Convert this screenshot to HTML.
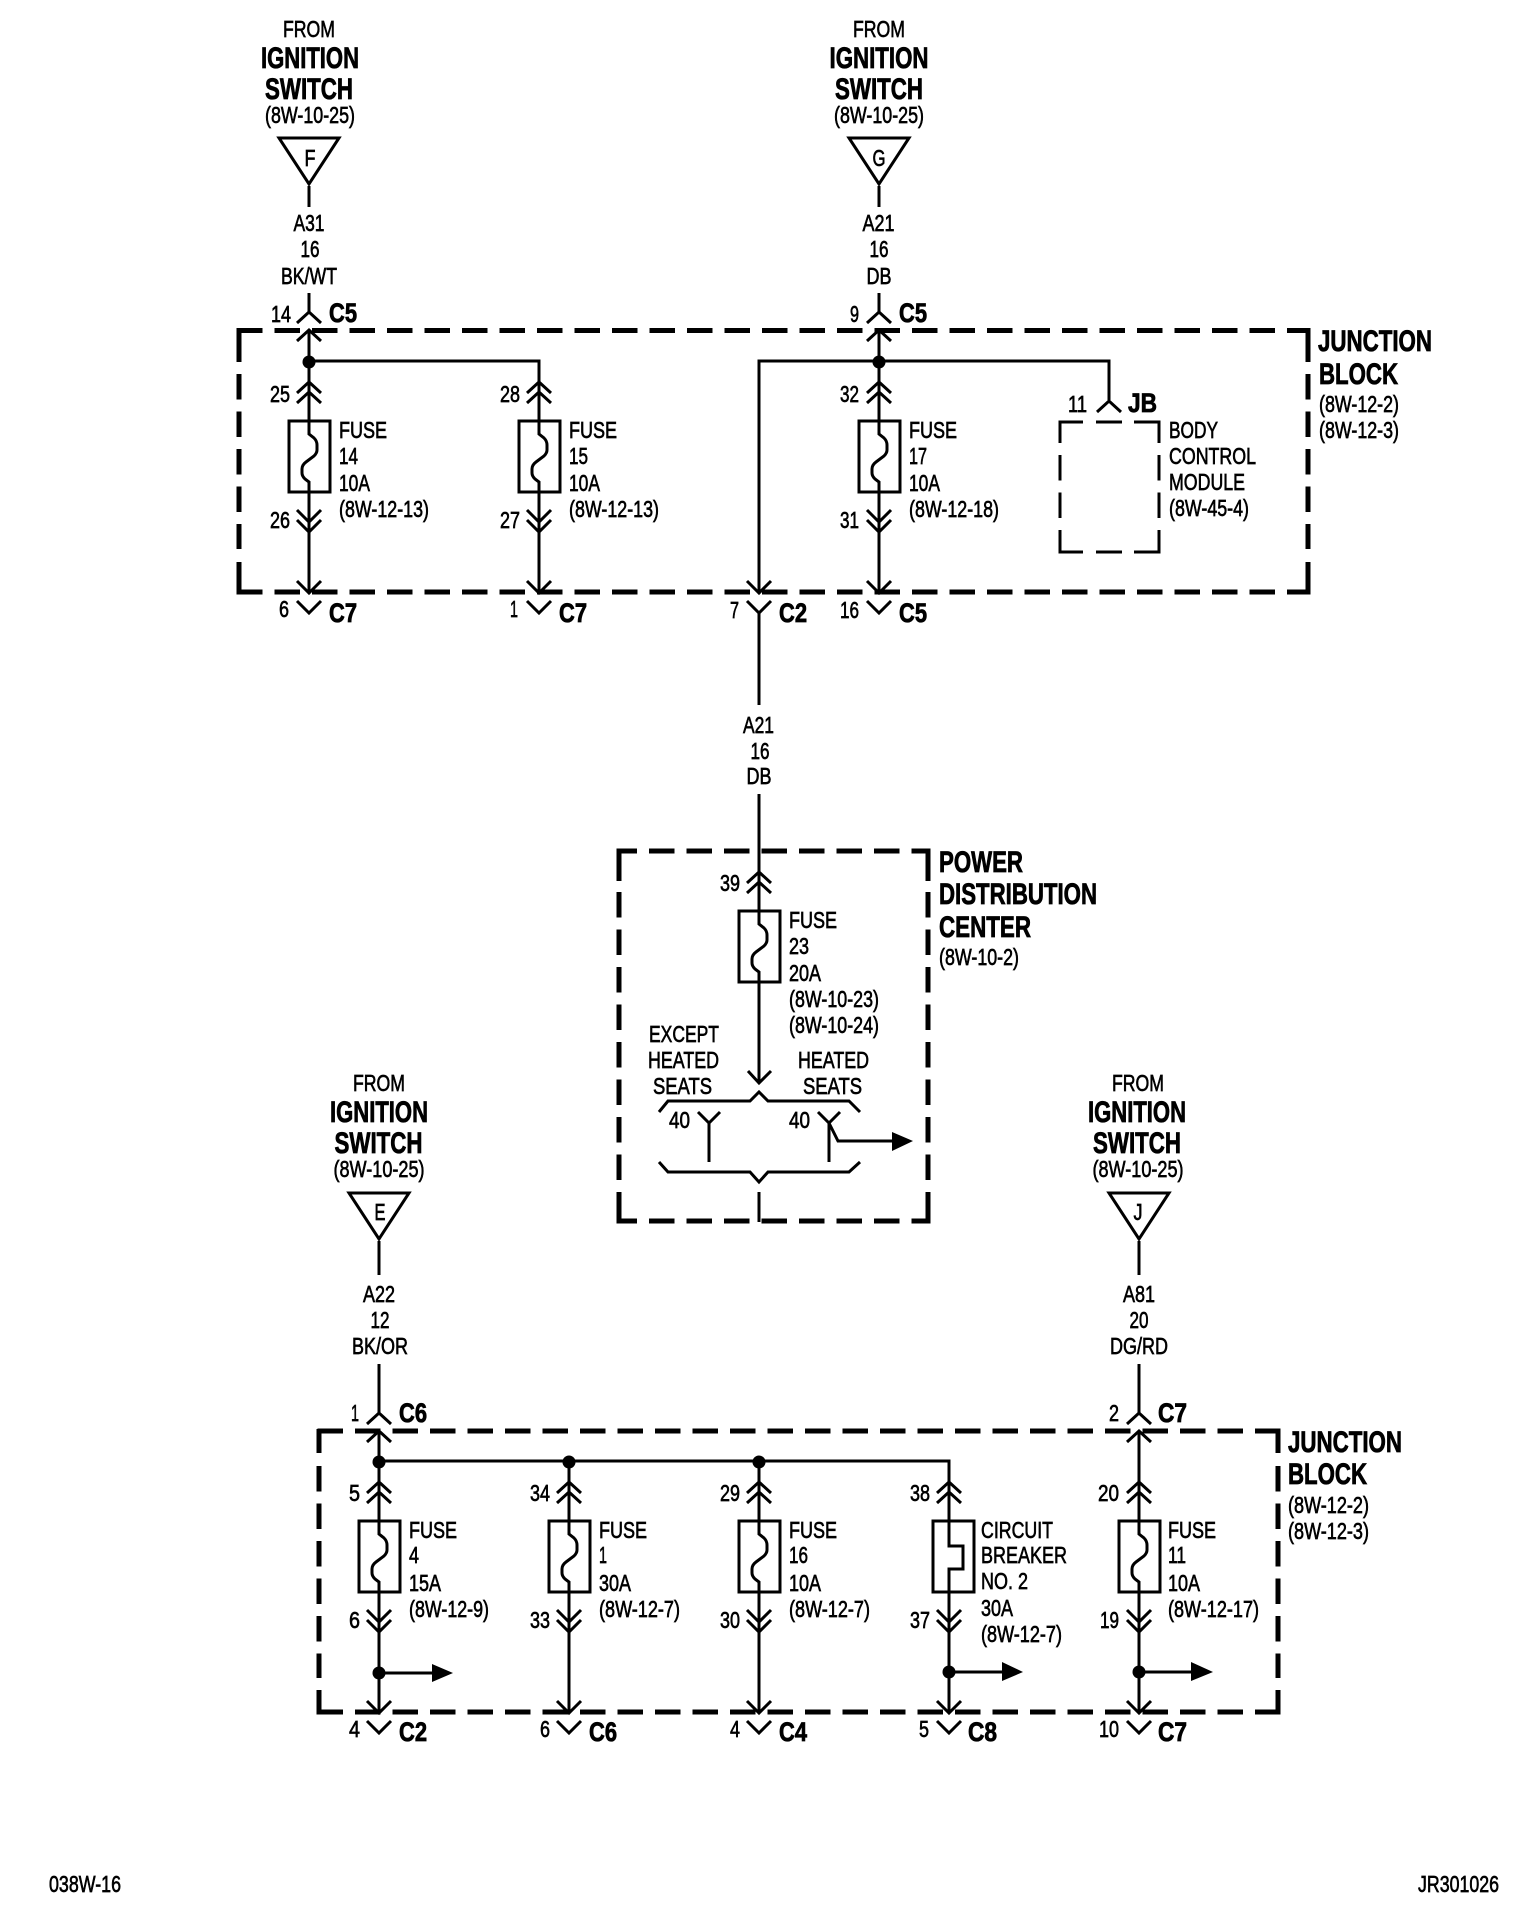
<!DOCTYPE html>
<html>
<head>
<meta charset="utf-8">
<title>Ignition switch wiring diagram 038W-16</title>
<style>
html,body{margin:0;padding:0;background:#fff}
svg{display:block}
.w{fill:none;stroke:#000;stroke-width:3;stroke-linejoin:miter}
.d{fill:none;stroke:#000;stroke-width:5}
.dd{fill:none;stroke:#000;stroke-width:5;stroke-dasharray:25.5 12}
.b{fill:none;stroke:#000;stroke-width:3}
.bd{fill:none;stroke:#000;stroke-width:3;stroke-dasharray:25.5 12}
text{font-family:"Liberation Sans",sans-serif;fill:#000;stroke:#000;stroke-width:.65;font-size:23px}
.h{font-weight:bold;font-size:30px;stroke-width:.8}
.c{font-weight:bold;font-size:27px;stroke-width:.8}
.m{text-anchor:middle}
</style>
</head>
<body>
<svg xmlns="http://www.w3.org/2000/svg" width="1536" height="1930" viewBox="0 0 1536 1930">
<defs>
<path id="up" class="w" d="M-12 11L0 0L12 11"/>
<path id="dn" class="w" d="M-12 0L0 12L12 0"/>
<g id="ch"><path class="w" d="M0 -39V0M0 71V111M-12 -28L0 -39L12 -28M-12 -18L0 -29L12 -18M-12 89L0 101L12 89M-12 99L0 111L12 99"/></g>
<g id="f"><rect class="w" x="-20" y="0" width="41" height="71"/><path class="w" d="M0 0V13L5 17Q8 20 8 24V29Q8 32 5 35L-3 41Q-7 44 -7 48V52Q-7 55 -4 58L0 61V71"/></g>
<polygon id="tri" class="w" points="-30,1 30,1 0,47"/>
</defs>

<!-- Top junction block box -->
<path class="dd" d="M237 330.5H1310.5"/>
<path class="dd" d="M237 592H1310.5"/>
<path class="d" d="M239 328V362M239 562V594.5M1308 328V362M1308 562V594.5"/>
<path class="dd" d="M239 374V549M1308 374V549"/>

<!-- BCM box -->
<path class="b" d="M1058.5 422H1083M1096 422H1122M1134 422H1160.5M1058.5 552H1083M1096 552H1122M1134 552H1160.5"/>
<path class="b" d="M1060 422V443M1060 530V553.5M1159 422V443M1159 530V553.5"/>
<path class="bd" d="M1060 455V518M1159 455V518"/>

<!-- Top left feed -->
<use href="#tri" x="309" y="137"/>
<path class="w" d="M309 186V207M309 293V312M309 330V382M309 532V593"/>
<use href="#up" x="309" y="312"/><use href="#up" x="309" y="330"/>
<circle cx="309" cy="362" r="6.5"/>
<path class="w" d="M309 361H539V382"/>
<use href="#ch" x="309" y="421"/><use href="#f" x="309" y="421"/>
<use href="#dn" x="309" y="581"/><use href="#dn" x="309" y="601"/>
<use href="#ch" x="539" y="421"/><use href="#f" x="539" y="421"/>
<path class="w" d="M539 532V593"/>
<use href="#dn" x="539" y="581"/><use href="#dn" x="539" y="601"/>

<!-- Top right feed -->
<use href="#tri" x="879" y="137"/>
<path class="w" d="M879 186V207M879 293V312M879 330V382M879 532V593"/>
<use href="#up" x="879" y="312"/><use href="#up" x="879" y="330"/>
<circle cx="879" cy="362" r="6.5"/>
<path class="w" d="M759 593V361H1109V400"/>
<use href="#up" x="1109" y="401"/>
<use href="#ch" x="879" y="421"/><use href="#f" x="879" y="421"/>
<use href="#dn" x="879" y="581"/><use href="#dn" x="879" y="601"/>
<use href="#dn" x="759" y="581"/><use href="#dn" x="759" y="601"/>
<path class="w" d="M759 613V705M759 794V872"/>

<!-- PDC box -->
<path class="d" d="M616.5 851H637M616.5 1221H637M619 849V881M619 1192V1223.5M928 849V881M928 1192V1223.5"/>
<path class="dd" d="M649 851H930.5M649 1221H930.5M619 892V1180M928 892V1180"/>
<path class="w" d="M759 872V911M759 982V1083"/>
<path class="w" d="M747 883L759 872L771 883M747 893L759 882L771 893"/>
<use href="#f" x="759" y="911"/>
<path class="w" d="M748 1071L759 1083L771 1071"/>
<path class="w" d="M659 1112L668 1101H750L759 1092L768 1101H849L860 1112"/>
<path class="w" d="M659 1162L668 1172H750L759 1182L768 1172H849L860 1162"/>
<path class="w" d="M698 1112L709 1123L720 1112M709 1123V1162"/>
<path class="w" d="M818 1112L829 1123L840 1112M829 1123V1162M829 1123L838 1141H892"/>
<polygon points="892,1132 892,1151 913,1141"/>
<path class="w" d="M759 1192V1222"/>

<!-- Lower box -->
<path class="dd" d="M317.5 1431H1280.5M317.5 1712H1280.5"/>
<path class="d" d="M319 1429V1453M319 1690V1714.5M1278 1429V1453M1278 1690V1714.5"/>
<path class="dd" d="M319 1466V1678M1278 1466V1678"/>

<!-- Lower feeds -->
<use href="#tri" x="379" y="1192"/>
<use href="#tri" x="1139" y="1192"/>
<path class="w" d="M379 1241V1275M379 1364V1413M379 1431V1482M1139 1241V1275M1139 1364V1413M1139 1431V1482"/>
<use href="#up" x="379" y="1413"/><use href="#up" x="379" y="1431"/>
<use href="#up" x="1139" y="1413"/><use href="#up" x="1139" y="1431"/>
<path class="w" d="M379 1461H949V1482"/>
<circle cx="379" cy="1462" r="6.5"/><circle cx="569" cy="1462" r="6.5"/><circle cx="759" cy="1462" r="6.5"/>
<path class="w" d="M569 1461V1482M759 1461V1482"/>
<use href="#ch" x="379" y="1521"/><use href="#f" x="379" y="1521"/>
<use href="#ch" x="569" y="1521"/><use href="#f" x="569" y="1521"/>
<use href="#ch" x="759" y="1521"/><use href="#f" x="759" y="1521"/>
<use href="#ch" x="949" y="1521"/>
<rect class="w" x="933" y="1521" width="41" height="71"/>
<path class="w" d="M949 1521V1546H963V1569H949V1592"/>
<use href="#ch" x="1139" y="1521"/><use href="#f" x="1139" y="1521"/>
<path class="w" d="M379 1632V1713M569 1632V1713M759 1632V1713M949 1632V1713M1139 1632V1713"/>
<use href="#dn" x="379" y="1701"/><use href="#dn" x="379" y="1721"/>
<use href="#dn" x="569" y="1701"/><use href="#dn" x="569" y="1721"/>
<use href="#dn" x="759" y="1701"/><use href="#dn" x="759" y="1721"/>
<use href="#dn" x="949" y="1701"/><use href="#dn" x="949" y="1721"/>
<use href="#dn" x="1139" y="1701"/><use href="#dn" x="1139" y="1721"/>
<circle cx="379" cy="1673" r="6.5"/><path class="w" d="M379 1673H432"/><polygon points="432,1664 432,1682 453,1673"/>
<circle cx="949" cy="1672" r="6.5"/><path class="w" d="M949 1672H1002"/><polygon points="1002,1662 1002,1681 1023,1672"/>
<circle cx="1139" cy="1672" r="6.5"/><path class="w" d="M1139 1672H1191"/><polygon points="1191,1662 1191,1681 1213,1672"/>

<!-- Text: top left -->
<text class="m" x="309" y="37" textLength="52" lengthAdjust="spacingAndGlyphs">FROM</text>
<text class="h m" x="310" y="68" textLength="98" lengthAdjust="spacingAndGlyphs">IGNITION</text>
<text class="h m" x="309" y="99" textLength="88" lengthAdjust="spacingAndGlyphs">SWITCH</text>
<text class="m" x="310" y="123" textLength="90" lengthAdjust="spacingAndGlyphs">(8W-10-25)</text>
<text class="m" x="310" y="166" textLength="11" lengthAdjust="spacingAndGlyphs">F</text>
<text class="m" x="309" y="231" textLength="31" lengthAdjust="spacingAndGlyphs">A31</text>
<text class="m" x="310" y="257" textLength="19" lengthAdjust="spacingAndGlyphs">16</text>
<text class="m" x="309" y="284" textLength="56" lengthAdjust="spacingAndGlyphs">BK/WT</text>
<text x="271" y="322" textLength="20" lengthAdjust="spacingAndGlyphs">14</text>
<text class="c" x="329" y="322" textLength="28" lengthAdjust="spacingAndGlyphs">C5</text>
<text x="270" y="402" textLength="20" lengthAdjust="spacingAndGlyphs">25</text>
<text x="270" y="528" textLength="20" lengthAdjust="spacingAndGlyphs">26</text>
<text x="339" y="438" textLength="48" lengthAdjust="spacingAndGlyphs">FUSE</text>
<text x="339" y="464" textLength="19" lengthAdjust="spacingAndGlyphs">14</text>
<text x="339" y="491" textLength="31" lengthAdjust="spacingAndGlyphs">10A</text>
<text x="339" y="517" textLength="90" lengthAdjust="spacingAndGlyphs">(8W-12-13)</text>
<text x="279" y="617" textLength="10" lengthAdjust="spacingAndGlyphs">6</text>
<text class="c" x="329" y="622" textLength="28" lengthAdjust="spacingAndGlyphs">C7</text>
<text x="500" y="402" textLength="20" lengthAdjust="spacingAndGlyphs">28</text>
<text x="500" y="528" textLength="20" lengthAdjust="spacingAndGlyphs">27</text>
<text x="569" y="438" textLength="48" lengthAdjust="spacingAndGlyphs">FUSE</text>
<text x="569" y="464" textLength="19" lengthAdjust="spacingAndGlyphs">15</text>
<text x="569" y="491" textLength="31" lengthAdjust="spacingAndGlyphs">10A</text>
<text x="569" y="517" textLength="90" lengthAdjust="spacingAndGlyphs">(8W-12-13)</text>
<text x="510" y="617" textLength="8" lengthAdjust="spacingAndGlyphs">1</text>
<text class="c" x="559" y="622" textLength="28" lengthAdjust="spacingAndGlyphs">C7</text>

<!-- Text: top right -->
<text class="m" x="879" y="37" textLength="52" lengthAdjust="spacingAndGlyphs">FROM</text>
<text class="h m" x="879" y="68" textLength="99" lengthAdjust="spacingAndGlyphs">IGNITION</text>
<text class="h m" x="879" y="99" textLength="88" lengthAdjust="spacingAndGlyphs">SWITCH</text>
<text class="m" x="879" y="123" textLength="90" lengthAdjust="spacingAndGlyphs">(8W-10-25)</text>
<text class="m" x="879" y="166" textLength="13" lengthAdjust="spacingAndGlyphs">G</text>
<text class="m" x="878.5" y="231" textLength="32" lengthAdjust="spacingAndGlyphs">A21</text>
<text class="m" x="879" y="257" textLength="19" lengthAdjust="spacingAndGlyphs">16</text>
<text class="m" x="879" y="284" textLength="25" lengthAdjust="spacingAndGlyphs">DB</text>
<text x="850" y="322" textLength="9" lengthAdjust="spacingAndGlyphs">9</text>
<text class="c" x="899" y="322" textLength="28" lengthAdjust="spacingAndGlyphs">C5</text>
<text x="840" y="402" textLength="19" lengthAdjust="spacingAndGlyphs">32</text>
<text x="840" y="528" textLength="19" lengthAdjust="spacingAndGlyphs">31</text>
<text x="909" y="438" textLength="48" lengthAdjust="spacingAndGlyphs">FUSE</text>
<text x="909" y="464" textLength="18" lengthAdjust="spacingAndGlyphs">17</text>
<text x="909" y="491" textLength="31" lengthAdjust="spacingAndGlyphs">10A</text>
<text x="909" y="517" textLength="90" lengthAdjust="spacingAndGlyphs">(8W-12-18)</text>
<text x="840" y="618" textLength="19" lengthAdjust="spacingAndGlyphs">16</text>
<text class="c" x="899" y="622" textLength="28" lengthAdjust="spacingAndGlyphs">C5</text>
<text x="730" y="618" textLength="9" lengthAdjust="spacingAndGlyphs">7</text>
<text class="c" x="779" y="622" textLength="28" lengthAdjust="spacingAndGlyphs">C2</text>
<text x="1068" y="412" textLength="19" lengthAdjust="spacingAndGlyphs">11</text>
<text class="c" x="1128" y="412" textLength="29" lengthAdjust="spacingAndGlyphs">JB</text>
<text x="1169" y="438" textLength="49" lengthAdjust="spacingAndGlyphs">BODY</text>
<text x="1169" y="464" textLength="87" lengthAdjust="spacingAndGlyphs">CONTROL</text>
<text x="1169" y="490" textLength="76" lengthAdjust="spacingAndGlyphs">MODULE</text>
<text x="1169" y="516" textLength="80" lengthAdjust="spacingAndGlyphs">(8W-45-4)</text>
<text class="h" x="1318" y="351" textLength="114" lengthAdjust="spacingAndGlyphs">JUNCTION</text>
<text class="h" x="1319" y="384" textLength="79" lengthAdjust="spacingAndGlyphs">BLOCK</text>
<text x="1319" y="412" textLength="80" lengthAdjust="spacingAndGlyphs">(8W-12-2)</text>
<text x="1319" y="438" textLength="80" lengthAdjust="spacingAndGlyphs">(8W-12-3)</text>

<!-- Text: PDC -->
<text class="m" x="758.5" y="733" textLength="31" lengthAdjust="spacingAndGlyphs">A21</text>
<text class="m" x="760" y="759" textLength="19" lengthAdjust="spacingAndGlyphs">16</text>
<text class="m" x="759" y="784" textLength="25" lengthAdjust="spacingAndGlyphs">DB</text>
<text class="h" x="939" y="872" textLength="84" lengthAdjust="spacingAndGlyphs">POWER</text>
<text class="h" x="939" y="904" textLength="158" lengthAdjust="spacingAndGlyphs">DISTRIBUTION</text>
<text class="h" x="939" y="937" textLength="92" lengthAdjust="spacingAndGlyphs">CENTER</text>
<text x="939" y="965" textLength="80" lengthAdjust="spacingAndGlyphs">(8W-10-2)</text>
<text x="720" y="891" textLength="20" lengthAdjust="spacingAndGlyphs">39</text>
<text x="789" y="928" textLength="48" lengthAdjust="spacingAndGlyphs">FUSE</text>
<text x="789" y="954" textLength="20" lengthAdjust="spacingAndGlyphs">23</text>
<text x="789" y="981" textLength="32" lengthAdjust="spacingAndGlyphs">20A</text>
<text x="789" y="1007" textLength="90" lengthAdjust="spacingAndGlyphs">(8W-10-23)</text>
<text x="789" y="1033" textLength="90" lengthAdjust="spacingAndGlyphs">(8W-10-24)</text>
<text x="649" y="1042" textLength="70" lengthAdjust="spacingAndGlyphs">EXCEPT</text>
<text x="648" y="1068" textLength="71" lengthAdjust="spacingAndGlyphs">HEATED</text>
<text x="653" y="1094" textLength="59" lengthAdjust="spacingAndGlyphs">SEATS</text>
<text x="798" y="1068" textLength="71" lengthAdjust="spacingAndGlyphs">HEATED</text>
<text x="803" y="1094" textLength="59" lengthAdjust="spacingAndGlyphs">SEATS</text>
<text x="669" y="1128" textLength="21" lengthAdjust="spacingAndGlyphs">40</text>
<text x="789" y="1128" textLength="21" lengthAdjust="spacingAndGlyphs">40</text>

<!-- Text: lower left feed -->
<text class="m" x="379" y="1091" textLength="52" lengthAdjust="spacingAndGlyphs">FROM</text>
<text class="h m" x="379" y="1122" textLength="98" lengthAdjust="spacingAndGlyphs">IGNITION</text>
<text class="h m" x="378.5" y="1153" textLength="88" lengthAdjust="spacingAndGlyphs">SWITCH</text>
<text class="m" x="379" y="1177" textLength="91" lengthAdjust="spacingAndGlyphs">(8W-10-25)</text>
<text class="m" x="380" y="1220" textLength="11" lengthAdjust="spacingAndGlyphs">E</text>
<text class="m" x="379" y="1302" textLength="32" lengthAdjust="spacingAndGlyphs">A22</text>
<text class="m" x="380" y="1328" textLength="19" lengthAdjust="spacingAndGlyphs">12</text>
<text class="m" x="380" y="1354" textLength="56" lengthAdjust="spacingAndGlyphs">BK/OR</text>
<text x="351" y="1421" textLength="8" lengthAdjust="spacingAndGlyphs">1</text>
<text class="c" x="399" y="1422" textLength="28" lengthAdjust="spacingAndGlyphs">C6</text>

<!-- Text: lower right feed -->
<text class="m" x="1138" y="1091" textLength="52" lengthAdjust="spacingAndGlyphs">FROM</text>
<text class="h m" x="1137" y="1122" textLength="98" lengthAdjust="spacingAndGlyphs">IGNITION</text>
<text class="h m" x="1137" y="1153" textLength="88" lengthAdjust="spacingAndGlyphs">SWITCH</text>
<text class="m" x="1138" y="1177" textLength="91" lengthAdjust="spacingAndGlyphs">(8W-10-25)</text>
<text class="m" x="1138" y="1220" textLength="9" lengthAdjust="spacingAndGlyphs">J</text>
<text class="m" x="1139" y="1302" textLength="32" lengthAdjust="spacingAndGlyphs">A81</text>
<text class="m" x="1139" y="1328" textLength="19" lengthAdjust="spacingAndGlyphs">20</text>
<text class="m" x="1139" y="1354" textLength="58" lengthAdjust="spacingAndGlyphs">DG/RD</text>
<text x="1109" y="1421" textLength="10" lengthAdjust="spacingAndGlyphs">2</text>
<text class="c" x="1158" y="1422" textLength="29" lengthAdjust="spacingAndGlyphs">C7</text>
<text class="h" x="1288" y="1452" textLength="114" lengthAdjust="spacingAndGlyphs">JUNCTION</text>
<text class="h" x="1288" y="1484" textLength="79" lengthAdjust="spacingAndGlyphs">BLOCK</text>
<text x="1288" y="1513" textLength="81" lengthAdjust="spacingAndGlyphs">(8W-12-2)</text>
<text x="1288" y="1539" textLength="81" lengthAdjust="spacingAndGlyphs">(8W-12-3)</text>

<!-- Text: lower stacks -->
<text x="349" y="1501" textLength="11" lengthAdjust="spacingAndGlyphs">5</text>
<text x="349" y="1628" textLength="11" lengthAdjust="spacingAndGlyphs">6</text>
<text x="409" y="1538" textLength="48" lengthAdjust="spacingAndGlyphs">FUSE</text>
<text x="409" y="1563" textLength="10" lengthAdjust="spacingAndGlyphs">4</text>
<text x="409" y="1591" textLength="32" lengthAdjust="spacingAndGlyphs">15A</text>
<text x="409" y="1617" textLength="80" lengthAdjust="spacingAndGlyphs">(8W-12-9)</text>
<text x="349" y="1737" textLength="11" lengthAdjust="spacingAndGlyphs">4</text>
<text class="c" x="399" y="1741" textLength="28" lengthAdjust="spacingAndGlyphs">C2</text>

<text x="530" y="1501" textLength="20" lengthAdjust="spacingAndGlyphs">34</text>
<text x="530" y="1628" textLength="20" lengthAdjust="spacingAndGlyphs">33</text>
<text x="599" y="1538" textLength="48" lengthAdjust="spacingAndGlyphs">FUSE</text>
<text x="599" y="1563" textLength="8" lengthAdjust="spacingAndGlyphs">1</text>
<text x="599" y="1591" textLength="32" lengthAdjust="spacingAndGlyphs">30A</text>
<text x="599" y="1617" textLength="81" lengthAdjust="spacingAndGlyphs">(8W-12-7)</text>
<text x="540" y="1737" textLength="10" lengthAdjust="spacingAndGlyphs">6</text>
<text class="c" x="589" y="1741" textLength="28" lengthAdjust="spacingAndGlyphs">C6</text>

<text x="720" y="1501" textLength="20" lengthAdjust="spacingAndGlyphs">29</text>
<text x="720" y="1628" textLength="20" lengthAdjust="spacingAndGlyphs">30</text>
<text x="789" y="1538" textLength="48" lengthAdjust="spacingAndGlyphs">FUSE</text>
<text x="789" y="1563" textLength="19" lengthAdjust="spacingAndGlyphs">16</text>
<text x="789" y="1591" textLength="32" lengthAdjust="spacingAndGlyphs">10A</text>
<text x="789" y="1617" textLength="81" lengthAdjust="spacingAndGlyphs">(8W-12-7)</text>
<text x="730" y="1737" textLength="10" lengthAdjust="spacingAndGlyphs">4</text>
<text class="c" x="779" y="1741" textLength="28" lengthAdjust="spacingAndGlyphs">C4</text>

<text x="910" y="1501" textLength="20" lengthAdjust="spacingAndGlyphs">38</text>
<text x="910" y="1628" textLength="20" lengthAdjust="spacingAndGlyphs">37</text>
<text x="981" y="1538" textLength="72" lengthAdjust="spacingAndGlyphs">CIRCUIT</text>
<text x="981" y="1563" textLength="86" lengthAdjust="spacingAndGlyphs">BREAKER</text>
<text x="981" y="1589" textLength="47" lengthAdjust="spacingAndGlyphs">NO. 2</text>
<text x="981" y="1616" textLength="32" lengthAdjust="spacingAndGlyphs">30A</text>
<text x="981" y="1642" textLength="81" lengthAdjust="spacingAndGlyphs">(8W-12-7)</text>
<text x="919" y="1737" textLength="10" lengthAdjust="spacingAndGlyphs">5</text>
<text class="c" x="968" y="1741" textLength="29" lengthAdjust="spacingAndGlyphs">C8</text>

<text x="1098" y="1501" textLength="21" lengthAdjust="spacingAndGlyphs">20</text>
<text x="1100" y="1628" textLength="19" lengthAdjust="spacingAndGlyphs">19</text>
<text x="1168" y="1538" textLength="48" lengthAdjust="spacingAndGlyphs">FUSE</text>
<text x="1168" y="1563" textLength="18" lengthAdjust="spacingAndGlyphs">11</text>
<text x="1168" y="1591" textLength="32" lengthAdjust="spacingAndGlyphs">10A</text>
<text x="1168" y="1617" textLength="91" lengthAdjust="spacingAndGlyphs">(8W-12-17)</text>
<text x="1099" y="1737" textLength="20" lengthAdjust="spacingAndGlyphs">10</text>
<text class="c" x="1158" y="1741" textLength="29" lengthAdjust="spacingAndGlyphs">C7</text>

<!-- Footer -->
<text x="49" y="1892" textLength="72" lengthAdjust="spacingAndGlyphs">038W-16</text>
<text x="1418" y="1892" textLength="81" lengthAdjust="spacingAndGlyphs">JR301026</text>
</svg>
</body>
</html>
